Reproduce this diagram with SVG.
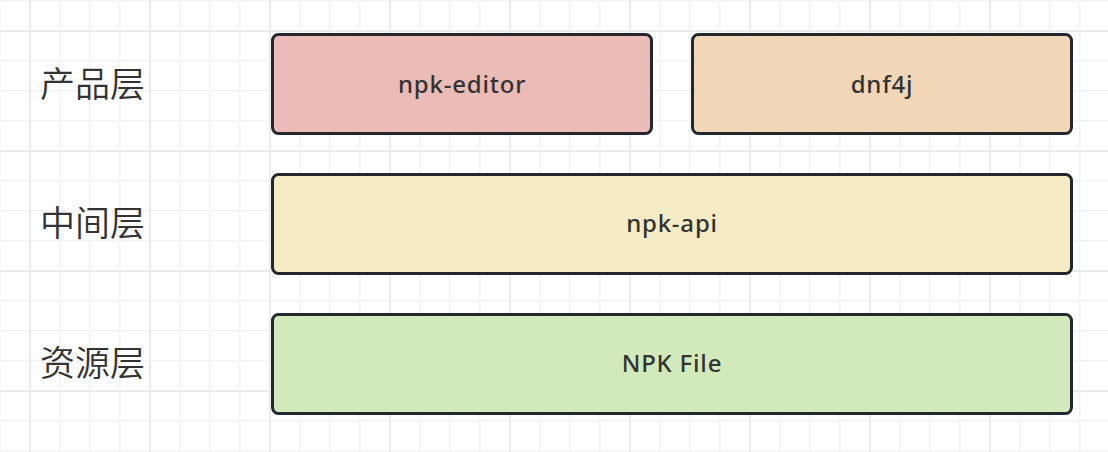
<svg xmlns="http://www.w3.org/2000/svg" width="1108" height="452" viewBox="0 0 1108 452">
  <defs>
    <pattern id="minor" x="29" y="30" width="30" height="30" patternUnits="userSpaceOnUse">
      <rect x="0" y="0" width="1.5" height="30" fill="#f3f3f3"/>
      <rect x="0" y="0" width="30" height="1.5" fill="#f3f3f3"/>
    </pattern>
    <pattern id="major" x="29" y="30" width="120" height="120" patternUnits="userSpaceOnUse">
      <rect x="0" y="0" width="2" height="120" fill="#ebebeb"/>
      <rect x="0" y="0" width="120" height="2" fill="#ebebeb"/>
    </pattern>
    <style>
      .box { stroke: #232830; stroke-width: 3; }
      .lbl { font-family: "Noto Sans CJK SC", "Noto Sans", sans-serif; font-size: 35px; font-weight: 350; fill: #333333; text-anchor: start; }
      .txt { font-family: "Noto Sans", "Liberation Sans", sans-serif; font-size: 24px; font-weight: 500; letter-spacing: 0.8px; fill: #333333; text-anchor: middle; }
    </style>
  </defs>
  <rect x="0" y="0" width="1108" height="452" fill="#ffffff"/>
  <rect x="0" y="0" width="1108" height="452" fill="url(#minor)"/>
  <rect x="0" y="0" width="1108" height="452" fill="url(#major)"/>

  <g id="label-product"><text class="lbl" x="40" y="97">产品层</text></g>
  <g id="label-middle"><text class="lbl" x="40" y="236">中间层</text></g>
  <g id="label-resource"><text class="lbl" x="40" y="376">资源层</text></g>

  <g id="npk-editor">
    <rect class="box" x="272.5" y="34.5" width="379" height="99" rx="6" fill="#ebbbb8"/>
    <text class="txt" x="462" y="93">npk-editor</text>
  </g>
  <g id="dnf4j">
    <rect class="box" x="692.5" y="34.5" width="379" height="99" rx="6" fill="#f2d6b8"/>
    <text class="txt" x="882" y="93">dnf4j</text>
  </g>
  <g id="npk-api">
    <rect class="box" x="272.5" y="174.5" width="799" height="99" rx="6" fill="#f5ecc5"/>
    <text class="txt" x="672" y="232">npk-api</text>
  </g>
  <g id="npk-file">
    <rect class="box" x="272.5" y="314.5" width="799" height="99" rx="6" fill="#d2eabb"/>
    <text class="txt" x="672" y="372">NPK File</text>
  </g>
  <g id="connectors"></g>
</svg>
